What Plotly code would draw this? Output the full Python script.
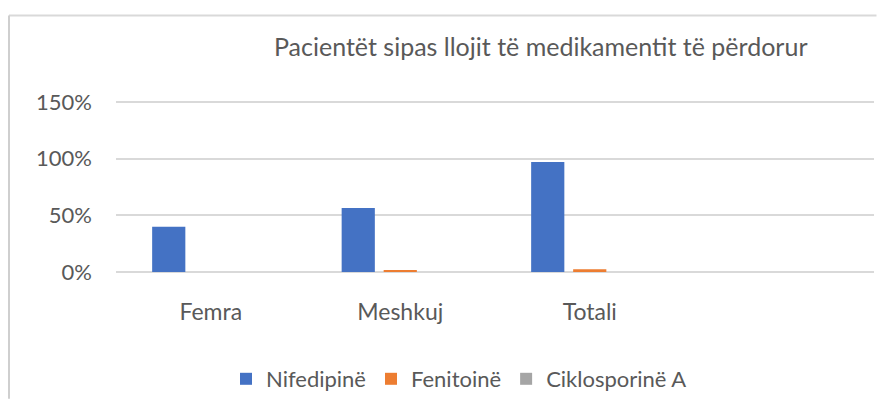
import plotly.graph_objects as go

categories = ["Femra", "Meshkuj", "Totali"]
nifedipine = [0.40, 0.565, 0.97]
fenitoine = [0.0, 0.012, 0.025]
ciklosporine = [0.0, 0.0, 0.0]
series_names = ["Nifedipinë", "Fenitoinë", "Ciklosporinë A"]
colors = ["#4472C4", "#ED7D31", "#A5A5A5"]
y_ticks = [0, 0.5, 1.0, 1.5]
y_tick_labels = ["0%", "50%", "100%", "150%"]
title_text = "Pacientët sipas llojit të medikamentit të përdorur"

FONT = "Lato"
GREY = "#595959"

fig = go.Figure()
for name, vals, col in zip(series_names, [nifedipine, fenitoine, ciklosporine], colors):
    fig.add_trace(go.Bar(
        x=categories, y=vals, name=name,
        marker=dict(color=col, line=dict(width=0)),
    ))

# page body has an 8px margin on every side; keep the figure inside the window
OFF = 8
W, H = 885 - 2 * OFF, 409 - 2 * OFF
# plot area in window px: x 116..874, y 100..273 (150% gridline at 102)
L = 116 - OFF
T = 100 - OFF
R = W - (874 - OFF)
B = H - (273 - OFF)
pw, ph = W - L - R, H - T - B
y_top = 1.5 * ph / (273 - 102)

def px_x(x):
    return (x - OFF - L) / pw

def px_y(y):
    return (H - B - (y - OFF)) / ph

right_edge = px_x(OFF + W - 0.5)
bottom_edge = px_y(OFF + H - 0.5)

fig.update_layout(
    width=W, height=H,
    margin=dict(l=L, r=R, t=T, b=B, pad=0),
    paper_bgcolor="white", plot_bgcolor="white",
    barmode="group", bargap=0.335, bargroupgap=0.21,
    font=dict(family=FONT, color=GREY, size=18),
    title=None,
    showlegend=True,
    legend=dict(
        orientation="h", x=px_x(459), xanchor="center",
        y=px_y(379), yanchor="middle",
        font=dict(family=FONT, size=22, color=GREY),
        itemwidth=30, traceorder="normal",
    ),
    xaxis=dict(
        type="category", range=[-0.5, 3.5],
        showgrid=False, showline=False, zeroline=False,
        ticks="", tickfont=dict(family=FONT, size=23, color=GREY),
        ticklabelstandoff=24,
    ),
    yaxis=dict(
        range=[0, y_top], tickvals=y_ticks, ticktext=y_tick_labels,
        showgrid=True, gridcolor="#d9d9d9", gridwidth=1.5,
        zeroline=True, zerolinecolor="#d9d9d9", zerolinewidth=1.5,
        showline=False, ticks="",
        tickfont=dict(family=FONT, size=22, color=GREY),
        ticklabelstandoff=23,
    ),
    annotations=[dict(
        text=title_text, xref="paper", yref="paper",
        x=px_x(540), y=px_y(46), xanchor="center", yanchor="middle",
        showarrow=False, font=dict(family=FONT, size=25, color=GREY),
    )],
    shapes=[
        dict(type="line", xref="paper", yref="paper",
             x0=px_x(9), x1=right_edge, y0=px_y(15), y1=px_y(15),
             line=dict(color="#d9d9d9", width=2)),
        dict(type="line", xref="paper", yref="paper",
             x0=px_x(9), x1=px_x(9), y0=px_y(15), y1=bottom_edge,
             line=dict(color="#cfcfcf", width=2)),
    ],
)

fig.write_html("out.html")
